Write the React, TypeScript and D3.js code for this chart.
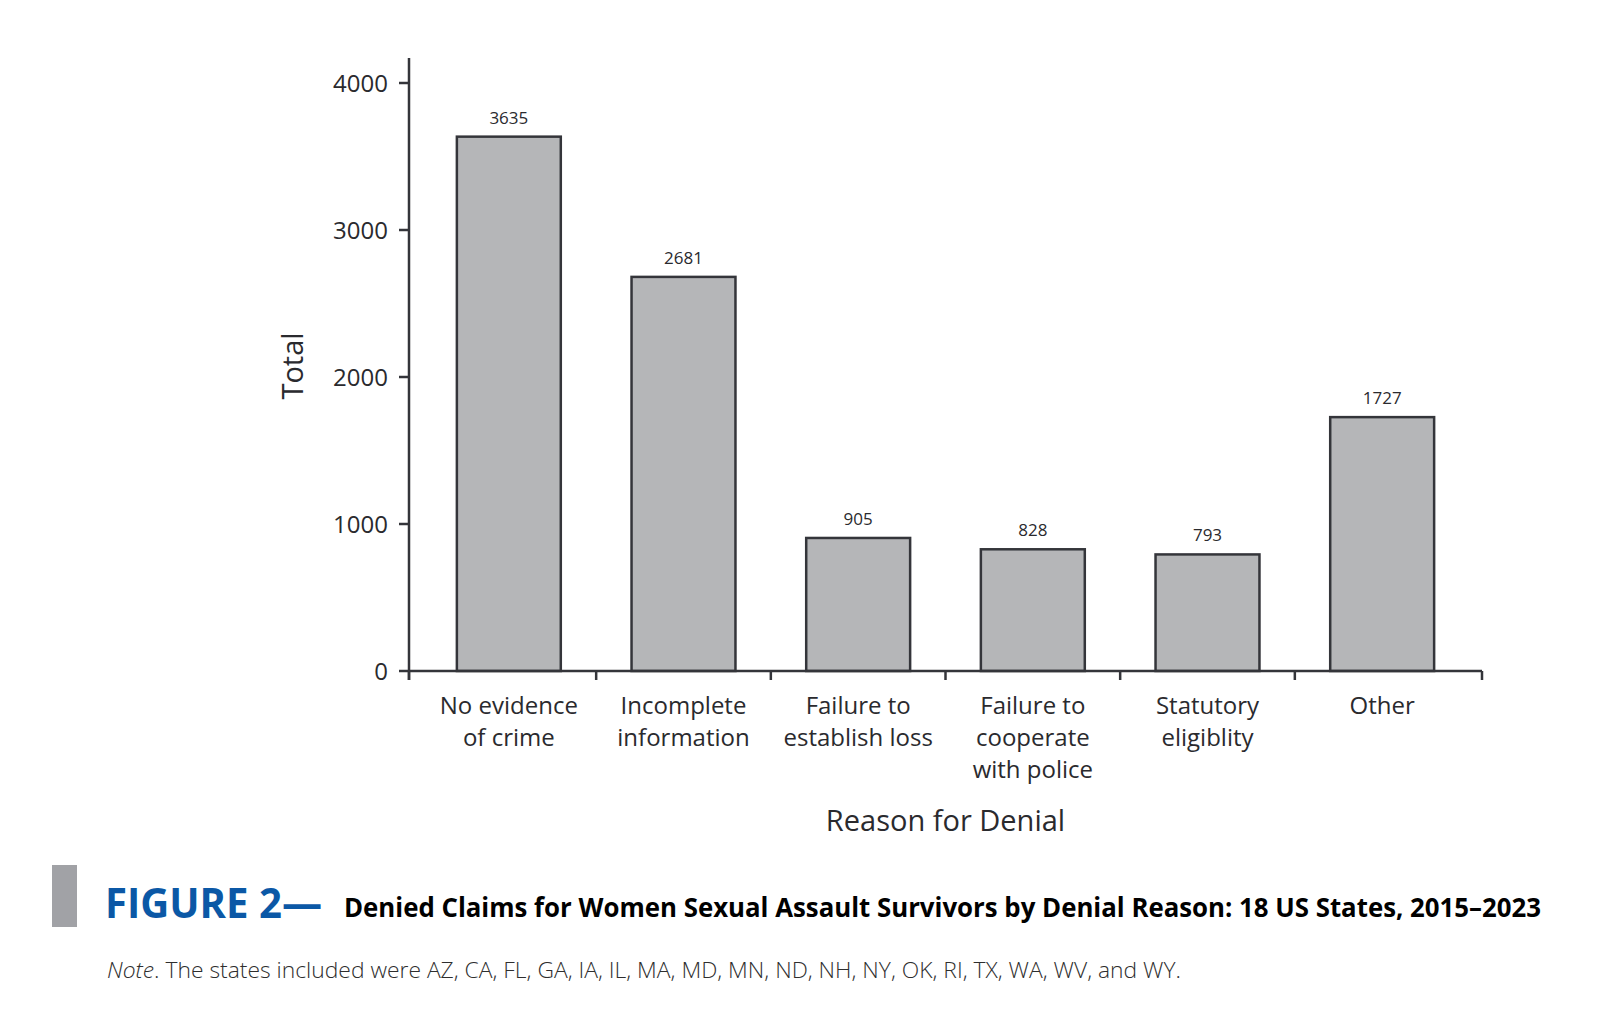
import React from "react";
import * as d3 from "d3";

const categories: string[][] = [
  ["No evidence", "of crime"],
  ["Incomplete", "information"],
  ["Failure to", "establish loss"],
  ["Failure to", "cooperate", "with police"],
  ["Statutory", "eligiblity"],
  ["Other"],
];
const values: number[] = [3635, 2681, 905, 828, 793, 1727];
const yTicks: number[] = [0, 1000, 2000, 3000, 4000];
const keys = categories.map((c) => c.join(" "));

const W = 1614;
const H = 1034;
const axisLeft = 409;
const axisRight = 1482;
const axisTop = 58;
const baseY = 671;
const yTopVal = 4000;
const yTopPx = 83;
const outerGap = 12.5;

const TEXT = "#2a2a2e";
const LINE = "#34353a";
const FONT = "'Open Sans', sans-serif";

export default function App() {
  const x = d3
    .scaleBand<string>()
    .domain(keys)
    .range([axisLeft + outerGap, axisRight - outerGap])
    .paddingInner(0.405)
    .paddingOuter(0.2025);
  const y = d3.scaleLinear().domain([0, yTopVal]).range([baseY, yTopPx]);
  const step = x.step();
  const bw = x.bandwidth();
  const centers = keys.map((k) => (x(k) as number) + bw / 2);
  const sepTicks = [axisLeft, ...centers.slice(0, -1).map((c) => c + step / 2), axisRight];

  return (
    <svg
      width={W}
      height={H}
      style={{ position: "absolute", left: 0, top: 0, background: "#fff" }}
      fontFamily={FONT}
    >
      {values.map((v, i) => (
        <rect
          key={keys[i]}
          x={x(keys[i])}
          y={y(v)}
          width={bw}
          height={baseY - y(v)}
          fill="#b5b6b8"
          stroke={LINE}
          strokeWidth={2.5}
        />
      ))}
      {values.map((v, i) => (
        <text
          key={"v" + i}
          x={centers[i]}
          y={y(v) - 13}
          textAnchor="middle"
          fontSize={17}
          fill={TEXT}
        >
          {v}
        </text>
      ))}
      <line x1={axisLeft} x2={axisLeft} y1={axisTop} y2={baseY + 9} stroke={LINE} strokeWidth={2.5} />
      {yTicks.map((t) => (
        <g key={t}>
          <line x1={axisLeft - 10} x2={axisLeft} y1={y(t)} y2={y(t)} stroke={LINE} strokeWidth={2.5} />
          <text x={388} y={y(t)} dy="0.36em" textAnchor="end" fontSize={24} fill={TEXT}>
            {t}
          </text>
        </g>
      ))}
      <text
        transform={`translate(303,366) rotate(-90)`}
        textAnchor="middle"
        fontSize={29}
        fill={TEXT}
      >
        Total
      </text>
      <line x1={axisLeft} x2={axisRight} y1={baseY} y2={baseY} stroke={LINE} strokeWidth={2.5} />
      {sepTicks.map((t, i) => (
        <line key={"t" + i} x1={t} x2={t} y1={baseY} y2={baseY + 9} stroke={LINE} strokeWidth={2.5} />
      ))}
      {categories.map((lines, i) => (
        <text key={"c" + i} textAnchor="middle" fontSize={24} fill={TEXT}>
          {lines.map((l, j) => (
            <tspan key={j} x={centers[i]} y={714 + j * 32}>
              {l}
            </tspan>
          ))}
        </text>
      ))}
      <text x={(axisLeft + axisRight) / 2} y={831} textAnchor="middle" fontSize={29} fill={TEXT}>
        Reason for Denial
      </text>
      <rect x={52} y={865} width={25} height={62} fill="#a1a2a6" />
      <text
        x={105}
        y={918}
        fontSize={42}
        fontWeight={700}
        fill="#0b58a6"
        textLength={217}
        lengthAdjust="spacingAndGlyphs"
      >
        FIGURE 2—
      </text>
      <text
        x={344}
        y={917}
        fontSize={26}
        fontWeight={700}
        fill="#000"
        textLength={1197}
        lengthAdjust="spacingAndGlyphs"
      >
        Denied Claims for Women Sexual Assault Survivors by Denial Reason: 18 US States, 2015–2023
      </text>
      <text
        x={107}
        y={978}
        fontSize={22}
        fontWeight={300}
        fill="#2e2e2e"
        textLength={1074}
        lengthAdjust="spacingAndGlyphs"
      >
        <tspan fontStyle="italic">Note</tspan>
        <tspan>. The states included were AZ, CA, FL, GA, IA, IL, MA, MD, MN, ND, NH, NY, OK, RI, TX, WA, WV, and WY.</tspan>
      </text>
    </svg>
  );
}
